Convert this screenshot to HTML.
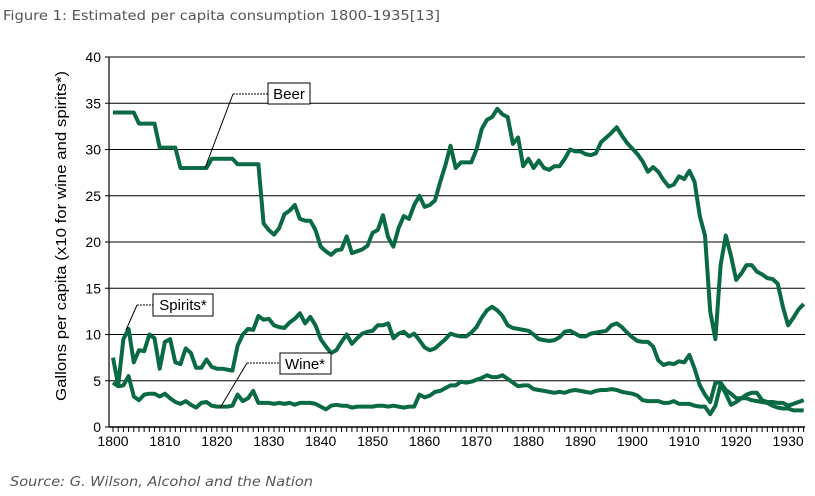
<!DOCTYPE html>
<html><head><meta charset="utf-8"><style>
body{margin:0;background:#fff;}
svg text{font-family:"Liberation Sans",sans-serif;}
</style></head><body>
<svg id="chart" width="815" height="491" viewBox="0 0 815 491" xmlns="http://www.w3.org/2000/svg">
<text x="3" y="20" font-size="13" fill="#555" textLength="437" lengthAdjust="spacingAndGlyphs" style="font-family:'DejaVu Sans',sans-serif">Figure 1: Estimated per capita consumption 1800-1935[13]</text>
<text x="10" y="486" font-size="13" fill="#555" font-style="italic" textLength="303" lengthAdjust="spacingAndGlyphs" style="font-family:'DejaVu Sans',sans-serif">Source: G. Wilson, Alcohol and the Nation</text>
<text transform="translate(66,236) rotate(-90)" text-anchor="middle" font-size="14.5" fill="#000" textLength="330" lengthAdjust="spacingAndGlyphs">Gallons per capita  (x10 for wine and spirits*)</text>
<g id="grid"></g><g id="axes"></g><g id="series"></g>
<g>
<line x1="205" y1="168" x2="233" y2="94" stroke="#000" stroke-width="1"/>
<line x1="233" y1="94" x2="268" y2="94" stroke="#000" stroke-width="1" stroke-dasharray="2,1"/>
<rect x="268" y="83" width="42" height="21" fill="#fff" stroke="#000"/>
<text x="289" y="99" text-anchor="middle" font-size="15">Beer</text></g>
<g>
<line x1="126" y1="330" x2="137" y2="305" stroke="#000" stroke-width="1"/>
<line x1="137" y1="305" x2="153" y2="305" stroke="#000" stroke-width="1" stroke-dasharray="2,1"/>
<rect x="153" y="294" width="60" height="22" fill="#fff" stroke="#000"/>
<text x="183" y="310" text-anchor="middle" font-size="15">Spirits*</text></g>
<g>
<line x1="220" y1="408" x2="247" y2="363" stroke="#000" stroke-width="1"/>
<line x1="247" y1="363" x2="280" y2="363" stroke="#000" stroke-width="1" stroke-dasharray="2,1"/>
<rect x="280" y="353" width="51" height="21" fill="#fff" stroke="#000"/>
<text x="305" y="369" text-anchor="middle" font-size="15">Wine*</text></g>
</svg>
<script>
const startYear = 1800;
const yTicks = [0,5,10,15,20,25,30,35,40];
const xTickLabels = [1800,1810,1820,1830,1840,1850,1860,1870,1880,1890,1900,1910,1920,1930];
const beer = [34,34,34,34,34,32.8,32.8,32.8,32.8,30.2,30.2,30.2,30.2,28,28,28,28,28,28,29,29,29,29,29,28.4,28.4,28.4,28.4,28.4,22,21.3,20.8,21.5,23,23.4,24,22.5,22.3,22.3,21.3,19.5,19,18.6,19.1,19.2,20.6,18.8,19,19.2,19.6,21,21.3,22.9,20.5,19.5,21.5,22.8,22.5,24,25,23.8,24,24.5,26.5,28.3,30.4,28,28.6,28.6,28.6,30,32.2,33.2,33.5,34.4,33.8,33.5,30.6,31.3,28.2,29,28,28.8,28,27.8,28.2,28.2,29,30,29.8,29.8,29.5,29.4,29.6,30.8,31.3,31.8,32.4,31.5,30.7,30.1,29.5,28.7,27.6,28.1,27.6,26.7,26,26.2,27.1,26.8,27.7,26.5,22.8,20.7,12.5,9.5,17.5,20.7,18.5,15.9,16.6,17.5,17.5,16.8,16.5,16.1,16,15.5,13,11,11.8,12.7,13.3];
const spirits = [7.5,4.5,9.5,10.6,7,8.3,8.2,10,9.6,6.3,9.2,9.5,7,6.8,8.5,8,6.4,6.4,7.3,6.5,6.3,6.3,6.2,6.1,8.8,10,10.6,10.5,12,11.6,11.7,11,10.8,10.7,11.3,11.7,12.3,11.2,11.9,11,9.5,8.7,8,8.3,9.2,10,9,9.6,10.1,10.3,10.4,11,11,11.2,9.6,10.1,10.3,9.8,10.1,9.4,8.6,8.3,8.5,9,9.5,10.1,9.9,9.8,9.8,10.2,10.8,11.8,12.6,13,12.6,12,11,10.7,10.6,10.5,10.4,10,9.5,9.4,9.3,9.4,9.7,10.3,10.4,10.1,9.8,9.8,10.1,10.2,10.3,10.4,11,11.2,10.8,10.2,9.7,9.3,9.2,9.2,8.7,7.2,6.7,6.9,6.8,7.1,7,7.8,6.3,4.5,3.5,2.7,4.8,4.8,4,3.6,3.1,3.1,3.1,2.9,2.8,2.7,2.6,2.3,2.1,2,2,1.8,1.8,1.8];
const wine = [4.8,4.4,4.5,5.5,3.3,2.9,3.5,3.6,3.6,3.3,3.6,3.1,2.7,2.5,2.8,2.4,2.1,2.6,2.7,2.3,2.2,2.2,2.2,2.3,3.5,2.8,3.1,3.9,2.6,2.6,2.6,2.5,2.6,2.5,2.6,2.4,2.6,2.6,2.6,2.5,2.2,1.9,2.3,2.4,2.3,2.3,2.1,2.2,2.2,2.2,2.2,2.3,2.3,2.2,2.3,2.2,2.1,2.2,2.2,3.5,3.2,3.4,3.8,3.9,4.2,4.5,4.5,4.9,4.8,4.9,5.1,5.3,5.6,5.4,5.4,5.6,5.2,4.8,4.4,4.5,4.5,4.1,4,3.9,3.8,3.7,3.8,3.7,3.9,4,3.9,3.8,3.7,3.9,4,4,4.1,4,3.8,3.7,3.6,3.4,2.9,2.8,2.8,2.8,2.6,2.6,2.8,2.5,2.5,2.5,2.3,2.2,2.2,1.4,2.3,4.6,3.6,2.4,2.7,3.1,3.5,3.7,3.7,2.9,2.7,2.7,2.6,2.6,2.3,2.5,2.7,2.9];

const NS='http://www.w3.org/2000/svg';
const X0=109, X1=805, Y0=427, Y1=57;
const xScale = yr => 113 + (yr-1800)*5.193;
const yScale = v => Y0 - (v/40)*(Y0-Y1);
function mk(tag, attrs, parent){const e=document.createElementNS(NS,tag);for(const k in attrs)e.setAttribute(k,attrs[k]);parent.appendChild(e);return e;}
const grid=document.getElementById('grid'), axes=document.getElementById('axes'), ser=document.getElementById('series');
yTicks.forEach(v=>{
  const y=yScale(v);
  if(v>0){const l=mk('line',{x1:X0,x2:X1,y1:y,y2:y,stroke:'#000','stroke-width':1},grid);
  
  }
  const t=mk('text',{x:101,y:y+5,'text-anchor':'end','font-size':14},axes);
  t.textContent=v;
  
  
  mk('line',{x1:X0-4,x2:X0,y1:y,y2:y,stroke:'#000'},axes);
});
const ya=mk('line',{x1:X0,x2:X0,y1:Y1,y2:Y0,stroke:'#000','stroke-width':1.2},axes);


const xa=mk('line',{x1:X0,x2:X1,y1:Y0,y2:Y0,stroke:'#000','stroke-width':1.5},axes);


for(let yr=1800;yr<=1934;yr++){const x=xScale(yr);if(x>X1)break;mk('line',{x1:x,x2:x,y1:Y0,y2:Y0+5,stroke:'#000'},axes);}
xTickLabels.forEach(yr=>{
  const t=mk('text',{x:xScale(yr),y:Y0+19,'text-anchor':'middle','font-size':14},axes);
  t.textContent=yr;
  
  
});
function line(data,name){
  const d=data.map((v,i)=>(i?'L':'M')+xScale(startYear+i).toFixed(1)+','+yScale(v).toFixed(1)).join('');
  const p=mk('path',{d:d,fill:'none',stroke:'#0a6a43','stroke-width':4,'stroke-linejoin':'round'},ser);
  
  
}
line(beer,'beer-line');line(spirits,'spirits-line');line(wine,'wine-line');
</script>
</body></html>
